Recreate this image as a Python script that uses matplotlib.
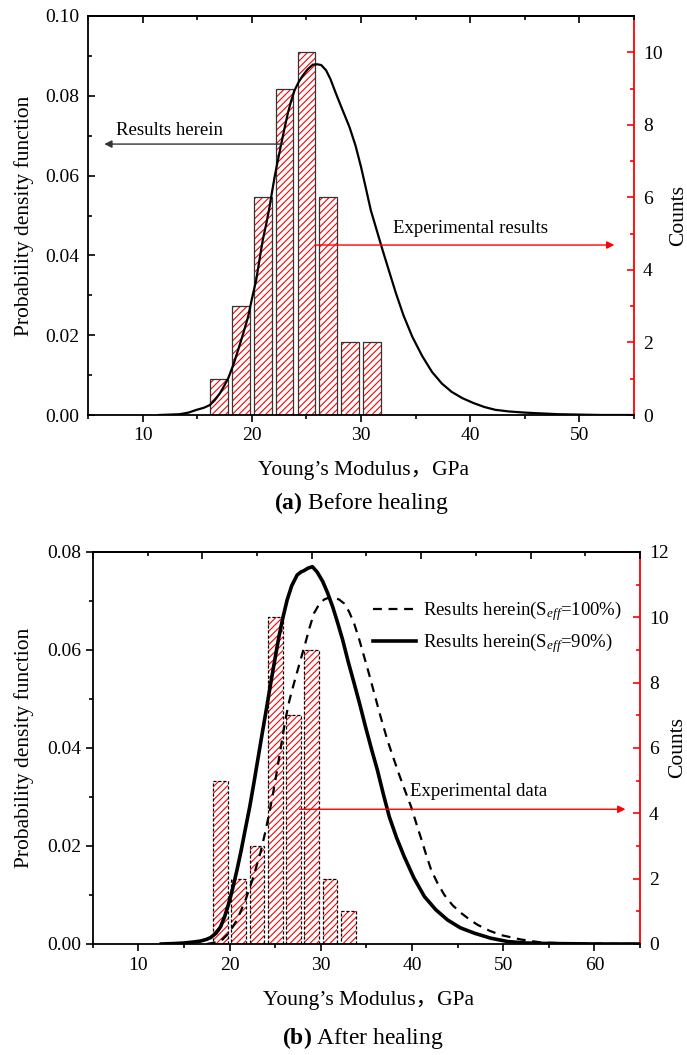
import matplotlib
matplotlib.use("Agg")
import matplotlib.pyplot as plt
from matplotlib.ticker import MultipleLocator, FormatStrFormatter

# ---- data ----
# (a) before healing
bins_a = [17, 19, 21, 23, 25, 27, 29, 31]
counts_a = [1, 3, 6, 9, 10, 6, 2, 2]
pdf_a_x = [11.5, 12.5, 13.4, 14.2, 14.95, 15.6, 16.16, 16.6, 17.07, 17.45, 17.84, 18.3,
           18.75, 19.2, 19.66, 20.0, 20.4, 20.7, 21.0, 21.3, 21.57, 21.83, 22.09, 22.4,
           22.7, 23.0, 23.3, 23.6, 23.92, 24.3, 24.68, 25.1, 25.59, 26.0, 26.36, 26.8,
           27.2, 27.7, 28.3, 28.94, 29.5, 30.0, 30.45, 30.9, 31.45, 31.98, 32.6, 33.2,
           33.9, 34.7, 35.6, 36.5, 37.4, 38.3, 39.3, 40.3, 41.3, 42.3, 43.5, 45.0, 46.5,
           48.0, 50.0, 52.0, 55.0]
pdf_a_y = [0.0, 0.0001, 0.0002, 0.0006, 0.0013, 0.0018, 0.0025, 0.0037, 0.0054, 0.0072,
           0.0092, 0.0125, 0.0163, 0.0203, 0.0246, 0.029, 0.0338, 0.0388, 0.0438, 0.0476,
           0.0513, 0.0555, 0.0597, 0.064, 0.068, 0.0719, 0.0756, 0.0787, 0.0814, 0.0835,
           0.0851, 0.0866, 0.0878, 0.0879, 0.0877, 0.0864, 0.0842, 0.0806, 0.0765, 0.0722,
           0.0675, 0.0622, 0.0568, 0.0513, 0.0462, 0.0413, 0.0358, 0.0305, 0.0249, 0.0196,
           0.0148, 0.0108, 0.0079, 0.0058, 0.0042, 0.003, 0.002, 0.0013, 0.0009, 0.0006,
           0.0004, 0.0002, 0.0001, 0.0, 0.0]

# (b) after healing
bins_b = [19, 21, 23, 25, 27, 29, 31, 33]
counts_b = [5, 2, 3, 10, 7, 9, 2, 1]
s90_x = [12.5, 14.0, 15.0, 16.0, 16.8, 17.4, 17.9, 18.5, 19.0, 19.45, 19.9, 20.35, 20.8,
         21.25, 21.7, 22.2, 22.65, 23.1, 23.57, 24.05, 24.5, 24.95, 25.4, 25.85, 26.3,
         26.8, 27.4, 27.8, 28.15, 28.6, 29.07, 29.6, 30.2, 30.75, 31.3, 31.85, 32.4,
         33.0, 33.65, 34.3, 34.9, 35.55, 36.2, 36.85, 37.5, 38.3, 39.15, 40.2, 41.35,
         42.6, 43.9, 45.3, 46.85, 48.6, 50.5, 52.5, 55.0, 60.0, 65.0]
s90_y = [0.0, 0.0001, 0.0002, 0.0004, 0.0006, 0.0009, 0.0013, 0.0022, 0.0035, 0.0056,
         0.0083, 0.0115, 0.0151, 0.019, 0.0233, 0.028, 0.0328, 0.0378, 0.043, 0.0482,
         0.0532, 0.058, 0.0627, 0.0667, 0.0702, 0.0731, 0.0753, 0.0759, 0.0762, 0.0767,
         0.077, 0.0759, 0.074, 0.0716, 0.0688, 0.0655, 0.062, 0.0576, 0.0532, 0.0487,
         0.0443, 0.0398, 0.0355, 0.0306, 0.026, 0.0217, 0.0178, 0.0135, 0.0097, 0.007,
         0.0049, 0.0033, 0.0022, 0.0012, 0.0005, 0.0002, 0.0001, 0.0, 0.0]
s100_x = [17.5, 18.98, 19.9, 20.8, 21.7, 22.5, 23.4, 23.9, 24.4, 24.8, 25.2, 25.65, 26.1,
          26.55, 27.05, 27.7, 28.3, 28.75, 29.25, 29.8, 30.35, 30.9, 31.45, 32.0, 32.55,
          33.1, 33.65, 34.2, 34.75, 35.3, 35.85, 36.55, 37.3, 37.95, 38.6, 39.25, 39.9,
          40.45, 41.0, 41.55, 42.1, 42.8, 43.55, 44.45, 45.4, 46.3, 47.2, 48.5, 49.8,
          52.0, 54.2, 58.0, 65.0]
s100_y = [0.0, 0.0005, 0.0022, 0.0049, 0.0088, 0.0131, 0.0188, 0.0228, 0.0272, 0.0312,
          0.0355, 0.0406, 0.0457, 0.0497, 0.0532, 0.0575, 0.0614, 0.0645, 0.0675, 0.0693,
          0.0703, 0.0707, 0.0707, 0.0703, 0.0695, 0.0678, 0.0654, 0.0622, 0.0586, 0.055,
          0.0512, 0.0464, 0.0416, 0.038, 0.0345, 0.0312, 0.028, 0.0247, 0.0215, 0.0182,
          0.0151, 0.0124, 0.01, 0.0079, 0.0063, 0.005, 0.0039, 0.0027, 0.0018, 0.0009,
          0.0003, 0.0001, 0.0]

top_ticks_b = [5, 17, 29, 41, 53, 65]
top_minor_b = [11, 23, 35, 47, 59]

plt.rcParams['font.family'] = ['Liberation Serif', 'Noto Sans CJK SC']
plt.rcParams['mathtext.fontset'] = 'custom'
plt.rcParams['mathtext.rm'] = 'Liberation Serif'
plt.rcParams['mathtext.it'] = 'Liberation Serif:italic'
plt.rcParams['mathtext.bf'] = 'Liberation Serif:bold'
plt.rcParams['hatch.linewidth'] = 0.8

RED = '#ff0000'
TICK_FS = 14
LABEL_FS = 15.5
NOTE_FS = 13.5


def setup_panel(ax, left_dir, ymax, cmax, xmax, bar_edge, bar_ls,
                bins, counts, top_major, top_minor):
    cnt = ax.twinx()
    cnt.set_zorder(ax.get_zorder() - 1)
    ax.set_zorder(cnt.get_zorder() + 1)
    ax.patch.set_visible(False)

    # hatched bars on the counts axis
    cnt.bar(bins, counts, width=1.62, color='white', edgecolor=RED, hatch='/////',
            linewidth=0)
    cnt.bar(bins, counts, width=1.62, fill=False, edgecolor=bar_edge, linewidth=0.9,
            linestyle=bar_ls)

    ax.set_xlim(5, xmax)
    ax.set_ylim(0, ymax)
    cnt.set_ylim(0, cmax)

    for s in ['left', 'bottom', 'top']:
        ax.spines[s].set_linewidth(1.3)
        cnt.spines[s].set_visible(False)
    ax.spines['right'].set_visible(False)
    cnt.spines['right'].set_color(RED)
    cnt.spines['right'].set_linewidth(1.3)

    ax.xaxis.set_major_locator(MultipleLocator(10))
    ax.xaxis.set_minor_locator(MultipleLocator(5))
    ax.yaxis.set_major_locator(MultipleLocator(0.02))
    ax.yaxis.set_minor_locator(MultipleLocator(0.01))
    ax.yaxis.set_major_formatter(FormatStrFormatter('%.2f'))
    cnt.yaxis.set_major_locator(MultipleLocator(2))
    cnt.yaxis.set_minor_locator(MultipleLocator(1))

    lpad = 6.5 if left_dir == 'in' else 3.5
    ax.tick_params(axis='x', which='both', direction='out', labelsize=TICK_FS,
                   width=1.2, pad=4)
    ax.tick_params(axis='x', which='major', length=5)
    ax.tick_params(axis='x', which='minor', length=3)
    ax.tick_params(axis='y', which='both', direction=left_dir, labelsize=TICK_FS,
                   width=1.2, pad=lpad)
    ax.tick_params(axis='y', which='major', length=5)
    ax.tick_params(axis='y', which='minor', length=3)
    cnt.tick_params(axis='y', which='both', direction='in', colors=RED,
                    labelcolor='black', labelsize=TICK_FS, width=1.2, pad=6.5)
    cnt.tick_params(axis='y', which='major', length=5)
    cnt.tick_params(axis='y', which='minor', length=3)

    top = ax.secondary_xaxis('top')
    top.set_xticks(top_major)
    top.set_xticks(top_minor, minor=True)
    top.tick_params(which='both', direction='in', labeltop=False, width=1.2)
    top.tick_params(which='major', length=5)
    top.tick_params(which='minor', length=3)
    top.spines['top'].set_linewidth(1.3)

    ax.set_xlabel('Young’s Modulus，GPa', fontsize=LABEL_FS)
    ax.set_ylabel('Probability density function', fontsize=LABEL_FS)
    cnt.set_ylabel('Counts', fontsize=LABEL_FS, rotation=90)
    ax.xaxis.label.set_va('center')
    ax.yaxis.label.set_va('center')
    cnt.yaxis.label.set_va('center')
    return cnt


fig = plt.figure(figsize=(6.87, 10.55), dpi=100)

# ---------------- (a) before healing ----------------
ax_a = fig.add_axes([88 / 687, 1 - 415 / 1055, 546 / 687, 399 / 1055])
cnt_a = setup_panel(ax_a, 'in', 0.10, 11, 55, '#333333', '-', bins_a, counts_a,
                    list(range(10, 55, 10)), list(range(5, 56, 10)))
ax_a.plot(pdf_a_x, pdf_a_y, color='black', lw=1.6)
ax_a.xaxis.set_label_coords(0.504, (415 - 471) / 399)
ax_a.yaxis.set_label_coords(-0.117, 0.5)
cnt_a.yaxis.set_label_coords(1.081, 0.5)

ax_a.annotate('', xy=(6.49, 0.0679), xytext=(22.9, 0.0679),
              arrowprops=dict(arrowstyle='-|>', color='#333333', lw=1.0,
                              mutation_scale=11, shrinkA=0, shrinkB=0))
ax_a.text(7.6, 0.0714, 'Results herein', fontsize=NOTE_FS, va='center', ha='left')
ax_a.annotate('', xy=(53.2, 0.0426), xytext=(25.8, 0.0426),
              arrowprops=dict(arrowstyle='-|>', color=RED, lw=1.0,
                              mutation_scale=11, shrinkA=0, shrinkB=0))
ax_a.text(32.9, 0.0468, 'Experimental results', fontsize=NOTE_FS, va='center', ha='left')

fig.text(361 / 687, 1 - 503 / 1055, r'$\mathbf{(a)}$ Before healing', fontsize=17,
         ha='center', va='center')

# ---------------- (b) after healing ----------------
ax_b = fig.add_axes([92.9 / 687, 1 - 944 / 1055, 547.1 / 687, 392 / 1055])
cnt_b = setup_panel(ax_b, 'out', 0.08, 12, 65, 'black', (0, (2.5, 1.5)), bins_b,
                    counts_b, top_ticks_b, top_minor_b)
ax_b.plot(s100_x, s100_y, color='black', lw=1.6, linestyle=(0, (4, 3)),
          label='Results herein(S$_{eff}$=100%)')
ax_b.plot(s90_x, s90_y, color='black', lw=2.6, label='Results herein(S$_{eff}$=90%)')
ax_b.xaxis.set_label_coords(0.504, (944 - 1000) / 392)
ax_b.yaxis.set_label_coords(-0.126, 0.5)
cnt_b.yaxis.set_label_coords(1.0695, 0.5)

ax_b.legend(loc='upper left', bbox_to_anchor=(0.512, 0.88), frameon=False,
            fontsize=NOTE_FS, handlelength=2.3, handletextpad=0.35,
            labelspacing=0.45, borderpad=0, borderaxespad=0)

ax_b.annotate('', xy=(63.4, 0.0275), xytext=(27.67, 0.0275),
              arrowprops=dict(arrowstyle='-|>', color=RED, lw=1.0,
                              mutation_scale=11, shrinkA=0, shrinkB=0))
ax_b.text(39.8, 0.0311, 'Experimental data', fontsize=NOTE_FS, va='center', ha='left')

fig.text(363 / 687, 1 - 1038 / 1055, r'$\mathbf{(b)}$ After healing', fontsize=17,
         ha='center', va='center')

fig.savefig('out.png', dpi=100)
